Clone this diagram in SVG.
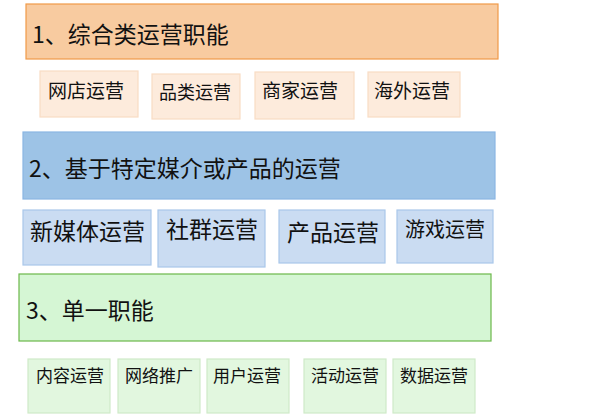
<svg xmlns="http://www.w3.org/2000/svg" width="589" height="417" viewBox="0 0 589 417">
<style>
text{font-family:"Noto Sans CJK SC","Noto Sans",sans-serif;fill:#111;}
.h1{fill:#f8cba0;stroke:#f09a48;stroke-width:1.2;}
.s1{fill:#fdebdc;stroke:#f9dcc4;stroke-width:1.2;}
.h2{fill:#9dc3e6;stroke:#8ab6e3;stroke-width:1.2;}
.s2{fill:#cadcf2;stroke:#a9c7ea;stroke-width:1.2;}
.h3{fill:#d5f6d4;stroke:#6cb84a;stroke-width:1.2;}
.s3{fill:#e2f7df;stroke:#cfeac8;stroke-width:1.2;}
.ht{font-size:23px;}
.t1{font-size:19px;}
.t2{font-size:23px;}
.t3{font-size:17px;}
</style>
<rect width="589" height="417" fill="#ffffff"/>
<g id="cat1">
<rect class="h1" x="26" y="4" width="472" height="55"/>
<text class="ht" x="32" y="43">1、综合类运营职能</text>
</g>
<g id="n-wangdian"><rect class="s1" x="40" y="71" width="98" height="46"/><text class="t1" x="48" y="98">网店运营</text></g>
<g id="n-pinlei"><rect class="s1" x="152" y="74" width="88" height="45"/><text class="t1" style="font-size:18px" x="159" y="99">品类运营</text></g>
<g id="n-shangjia"><rect class="s1" x="255" y="72" width="99" height="47"/><text class="t1" x="262" y="98">商家运营</text></g>
<g id="n-haiwai"><rect class="s1" x="368" y="72" width="92" height="45"/><text class="t1" x="374" y="98">海外运营</text></g>

<g id="cat2">
<rect class="h2" x="23" y="132" width="472" height="67"/>
<text class="ht" x="29" y="177">2、基于特定媒介或产品的运营</text>
</g>
<g id="n-xinmeiti"><rect class="s2" x="23" y="210" width="128" height="55"/><text class="t2" x="30" y="240">新媒体运营</text></g>
<g id="n-shequn"><rect class="s2" x="158" y="210" width="107" height="57"/><text class="t2" x="166" y="238">社群运营</text></g>
<g id="n-chanpin"><rect class="s2" x="279" y="210" width="106" height="53"/><text class="t2" x="287" y="241">产品运营</text></g>
<g id="n-youxi"><rect class="s2" x="397" y="210" width="96" height="53"/><text class="t2" style="font-size:20px" x="405" y="237">游戏运营</text></g>

<g id="cat3">
<rect class="h3" x="19" y="274" width="472" height="67"/>
<text class="ht" x="26" y="319">3、单一职能</text>
</g>
<g id="n-neirong"><rect class="s3" x="28" y="359" width="82" height="54"/><text class="t3" x="36" y="382">内容运营</text></g>
<g id="n-wangluo"><rect class="s3" x="118" y="359" width="82" height="54"/><text class="t3" x="125" y="382">网络推广</text></g>
<g id="n-yonghu"><rect class="s3" x="207" y="359" width="82" height="54"/><text class="t3" x="213" y="382">用户运营</text></g>
<g id="n-huodong"><rect class="s3" x="304" y="359" width="82" height="54"/><text class="t3" x="311" y="382">活动运营</text></g>
<g id="n-shuju"><rect class="s3" x="393" y="359" width="82" height="54"/><text class="t3" x="400" y="382">数据运营</text></g>
<g id="connectors"></g>
</svg>
